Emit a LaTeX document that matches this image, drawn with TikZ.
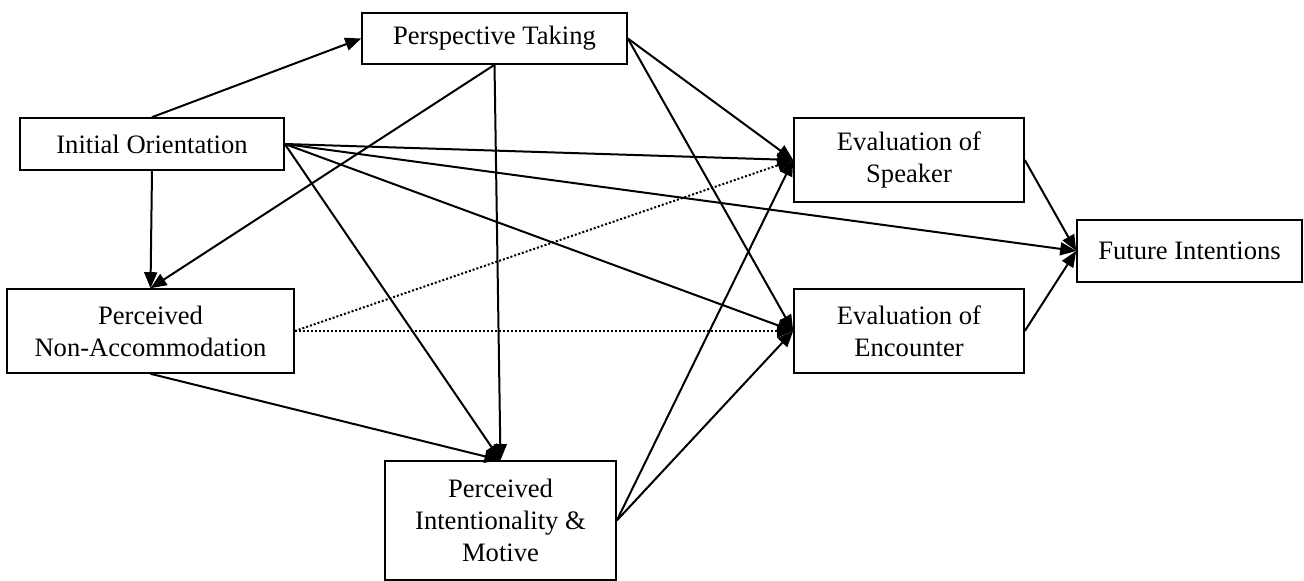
\documentclass[tikz,border=0pt]{standalone}
\usepackage{fontspec}
\setmainfont{Liberation Serif}
\usetikzlibrary{arrows.meta}
\tikzset{
  box/.style={draw=black, thick, align=center, inner sep=2pt, font=\fontsize{13.3}{16}\selectfont},
  link/.style={black, line width=1pt, -{Triangle[length=8pt,width=6.5pt]}},
  weak/.style={link, densely dotted}
}
\begin{document}
\begin{tikzpicture}[x=0.5pt,y=-0.5pt]
\useasboundingbox (0,0) rectangle (1304,581);

% boxes
\node[box, minimum width=132.5pt, minimum height=25.5pt] (persp) at (494.5,38.5) {Perspective Taking};
\node[box, minimum width=132pt, minimum height=26pt] (init) at (152,144) {Initial Orientation};
\node[box, minimum width=143.5pt, minimum height=42pt] (nonacc) at (150.5,331) {Perceived\\Non-Accommodation};
\node[box, minimum width=115.5pt, minimum height=59.5pt] (intent) at (500.5,520.5) {Perceived\\Intentionality \&\\Motive};
\node[box, minimum width=115pt, minimum height=42pt] (evspk) at (909,160) {Evaluation of\\Speaker};
\node[box, minimum width=115pt, minimum height=42pt] (evenc) at (909,331) {Evaluation of\\Encounter};
\node[box, minimum width=112.5pt, minimum height=31pt] (future) at (1189.5,251) {Future Intentions};

% paths from initial orientation
\draw[link] (init.north) -- (persp.west);
\draw[link] (init.south) -- (nonacc.north);
\draw[link] (init.east) -- (evspk.west);
\draw[link] (init.east) -- (future.west);
\draw[link] (init.east) -- (evenc.west);
\draw[link] (init.east) -- (intent.north);

% paths from perspective taking
\draw[link] (persp.south) -- (nonacc.north);
\draw[link] (persp.south) -- (intent.north);
\draw[link] (persp.east) -- (evspk.west);
\draw[link] (persp.east) -- (evenc.west);

% paths from non-accommodation
\draw[weak] (nonacc.east) -- (evspk.west);
\draw[weak] (nonacc.east) -- (evenc.west);
\draw[link] (nonacc.south) -- (intent.north);

% paths from intentionality
\draw[link] (intent.east) -- (evspk.west);
\draw[link] (intent.east) -- (evenc.west);

% evaluations to future intentions
\draw[link] (evspk.east) -- (future.west);
\draw[link] (evenc.east) -- (future.west);

\end{tikzpicture}
\end{document}
